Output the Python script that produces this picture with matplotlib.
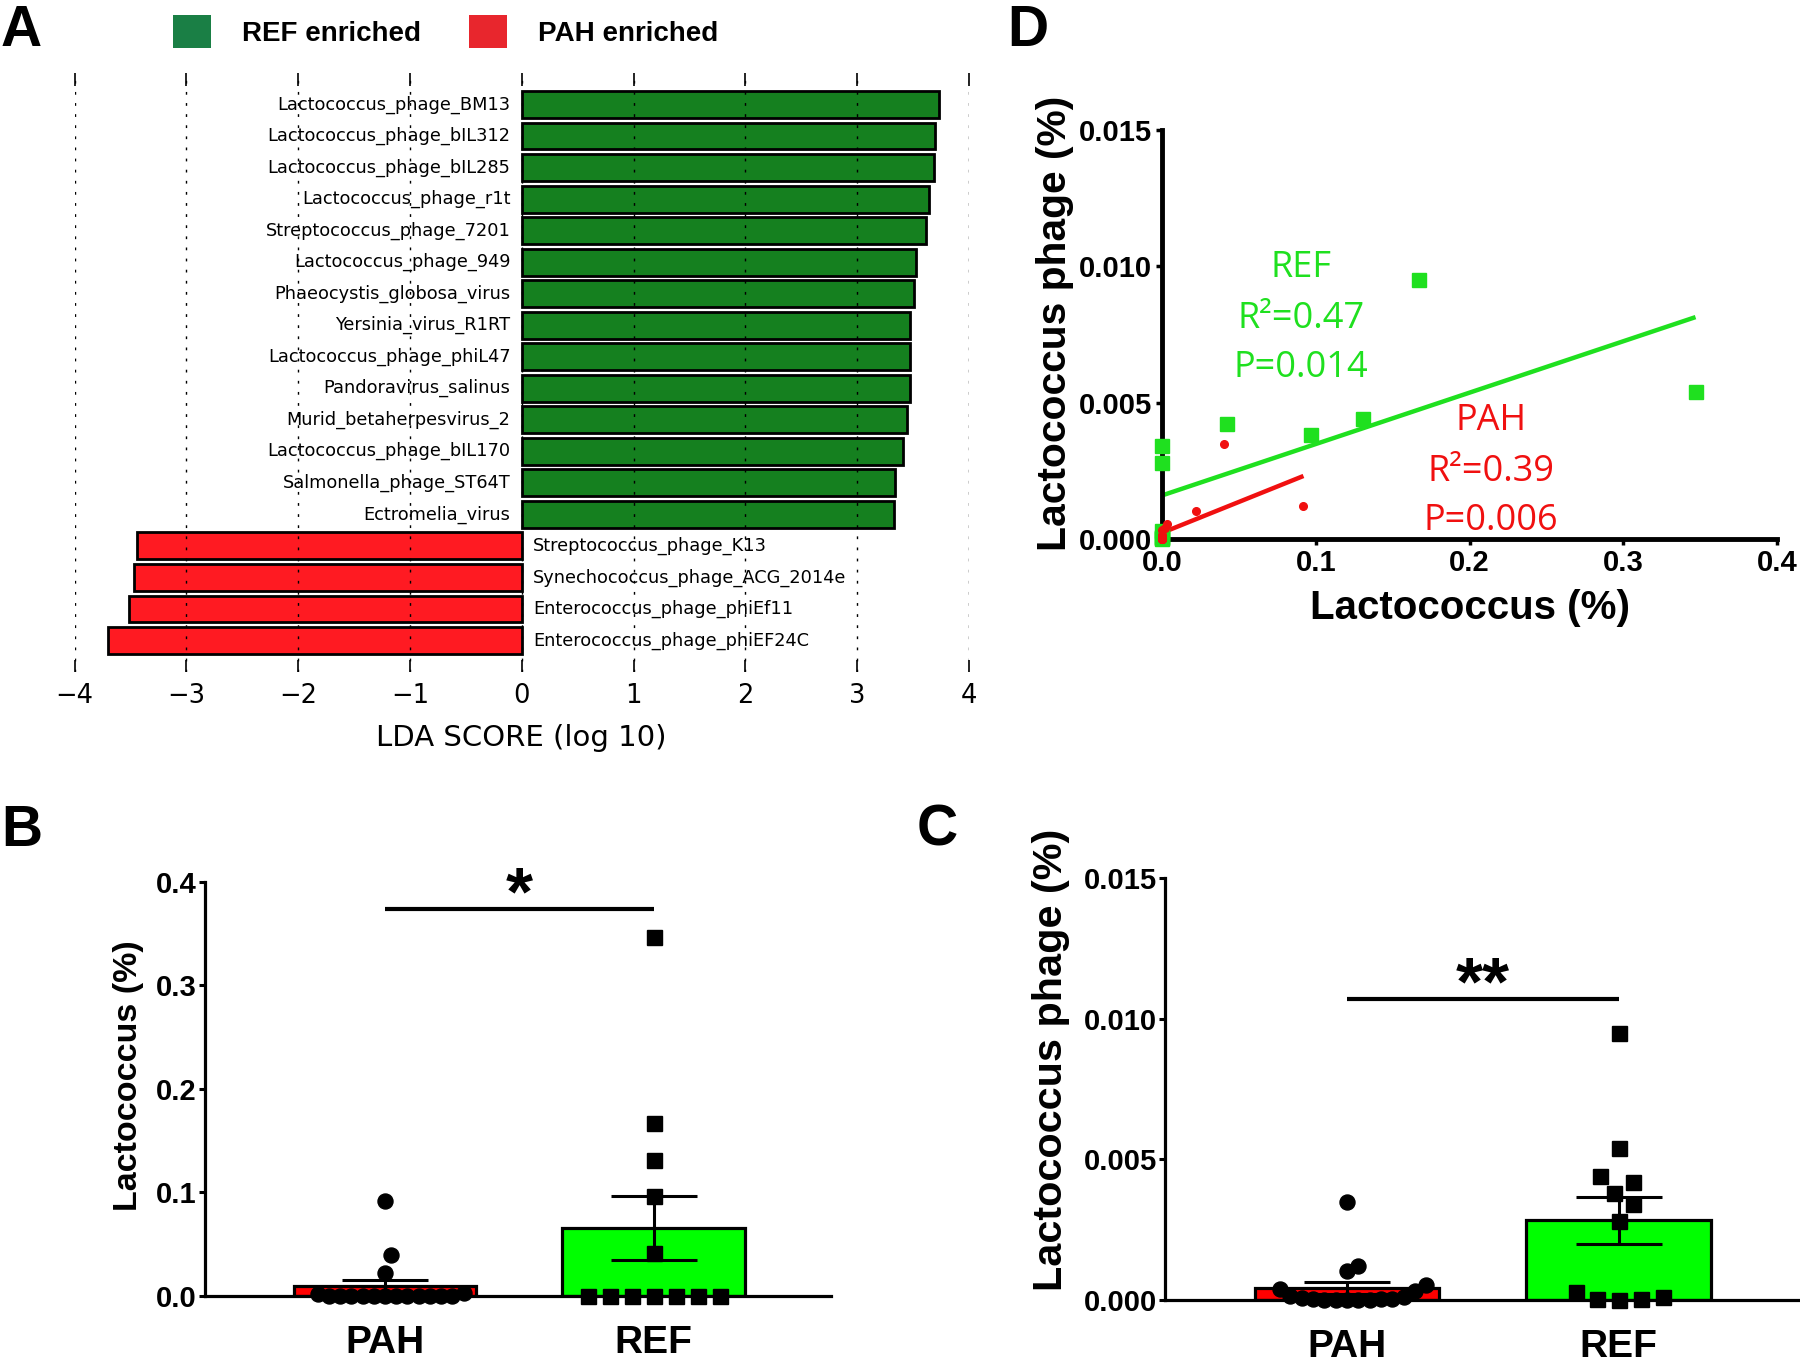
import numpy as np
import matplotlib
matplotlib.use("Agg")
import matplotlib.pyplot as plt
from matplotlib.patches import Patch
from matplotlib.ticker import FormatStrFormatter

# LEfSe result (panel A)
lefse_taxa = ["Lactococcus_phage_BM13", "Lactococcus_phage_bIL312", "Lactococcus_phage_bIL285",
              "Lactococcus_phage_r1t", "Streptococcus_phage_7201", "Lactococcus_phage_949",
              "Phaeocystis_globosa_virus", "Yersinia_virus_R1RT", "Lactococcus_phage_phiL47",
              "Pandoravirus_salinus", "Murid_betaherpesvirus_2", "Lactococcus_phage_bIL170",
              "Salmonella_phage_ST64T", "Ectromelia_virus", "Streptococcus_phage_K13",
              "Synechococcus_phage_ACG_2014e", "Enterococcus_phage_phiEf11", "Enterococcus_phage_phiEF24C"]
lefse_lda = [3.73, 3.70, 3.69, 3.64, 3.62, 3.53, 3.51, 3.47, 3.47, 3.47, 3.45, 3.41, 3.34, 3.33,
             -3.44, -3.47, -3.51, -3.70]

# per-sample abundances (%), same sample order in both lists
ref_lacto = [0.347, 0.167, 0.131, 0.097, 0.042, 0, 0, 0, 0, 0, 0, 0]
ref_phage = [0.0054, 0.0095, 0.0044, 0.0038, 0.0042, 0.0034, 0.0028, 0.0003, 0.00003, 0.0, 0.00003, 0.00009]
pah_lacto = [0.092, 0.040, 0.022, 0.003, 0.002, 0, 0, 0, 0, 0, 0, 0, 0, 0, 0, 0, 0]
pah_phage = [0.0012, 0.0035, 0.00102, 0.00055, 0.0004, 0.00033, 0.00015, 0.0001, 0.00008,
             0.00005, 0.00003, 0.00002, 0.00001, 0, 0, 0, 0]
groups = ["PAH", "REF"]

BOLD = dict(family="Liberation Sans", fontweight="bold")


def swarm(ax, values, center, d_px=22, max_w_px=157):
    # simple beeswarm: x offsets (data units) so markers don't overlap
    xy = ax.transData.transform(np.column_stack([np.full(len(values), center), values]))
    ys = xy[:, 1]
    xs = np.zeros(len(values))
    placed = []
    for i in np.argsort(ys, kind="stable"):
        cands = [0.0]
        for j in placed:
            dy = ys[i] - ys[j]
            if abs(dy) < d_px:
                dx = np.sqrt(d_px ** 2 - dy ** 2)
                cands += [xs[j] + dx, xs[j] - dx]
        cands.sort(key=lambda c: (round(abs(c), 6), -c))
        for c in cands:
            if all((c - xs[j]) ** 2 + (ys[i] - ys[j]) ** 2 >= d_px ** 2 - 1e-6 for j in placed):
                xs[i] = c
                break
        placed.append(i)
    half = np.abs(xs).max()
    if half > max_w_px / 2:
        xs *= (max_w_px / 2) / half
    unit = ax.transData.transform((1, 0))[0] - ax.transData.transform((0, 0))[0]
    return xs / unit


fig = plt.figure(figsize=(18, 13.65), dpi=100)

# ---------------- A : LEfSe ----------------
axA = fig.add_axes([0.04139, 0.50769, 0.4969, 0.43883])
ypos = np.arange(len(lefse_taxa))
bar_cols = ["#15801f" if v > 0 else "#ff1a22" for v in lefse_lda]
axA.barh(ypos, lefse_lda, height=0.85, color=bar_cols, edgecolor="black", linewidth=2)
for y, name, v in zip(ypos, lefse_taxa, lefse_lda):
    if v > 0:
        axA.text(-0.1, y, name, ha="right", va="center", fontsize=12.75, family="DejaVu Sans")
    else:
        axA.text(0.1, y, name, ha="left", va="center", fontsize=12.75, family="DejaVu Sans")
axA.set_xlim(-4, 4)
axA.set_ylim(len(lefse_taxa), -1)
axA.set_yticks([])
for s in axA.spines.values():
    s.set_visible(False)
axA.tick_params(axis="x", direction="in", top=True, bottom=True, length=9, width=1.2,
                labelsize=18.5, pad=8)
axA.set_axisbelow(False)
axA.xaxis.grid(True, linestyle=(0, (2, 6)), color="black", linewidth=1)
axA.set_xlabel("LDA SCORE (log 10)", fontsize=21, family="DejaVu Sans", labelpad=11)

fig.legend(handles=[Patch(facecolor="#1a7f45"), Patch(facecolor="#e8262d")],
           labels=["REF enriched", "PAH enriched"], loc="upper left",
           bbox_to_anchor=(0.093, 0.993), ncol=2, frameon=False,
           prop=dict(family="Liberation Sans", weight="bold", size=20),
           handlelength=1.37, handleheight=1.47, handletextpad=1.1, columnspacing=1.75,
           borderpad=0.2, borderaxespad=0)


# ---------------- B / C : bar + dots ----------------
def bar_panel(ax, pah, ref, ylim, yticks, fmt, stars, sig_y):
    vals = [np.array(pah), np.array(ref)]
    xpos = np.arange(len(groups))
    means = [v.mean() for v in vals]
    sems = [v.std(ddof=1) / np.sqrt(len(v)) for v in vals]
    ax.set_ylim(*ylim)
    ax.set_xlim(-0.67, 1.66)
    ax.bar(xpos, means, width=0.68, color=["#ff0000", "#00ff00"], edgecolor="black",
           linewidth=2.3, zorder=1)
    ax.errorbar(xpos, means, yerr=sems, fmt="none", ecolor="black", elinewidth=2.2,
                capsize=31, capthick=2.2, zorder=2)
    off0 = swarm(ax, vals[0], 0)
    off1 = swarm(ax, vals[1], 1)
    ax.plot(0 + off0, vals[0], "o", color="black", ms=10.8, clip_on=False, zorder=3)
    ax.plot(1 + off1, vals[1], "s", color="black", ms=10.8, clip_on=False, zorder=3)
    ax.plot([0, 1], [sig_y, sig_y], color="black", lw=3, solid_capstyle="butt")
    ax.text(0.5, sig_y - (ylim[1] - ylim[0]) * 0.013, stars, ha="center", va="baseline",
            fontsize=50, **BOLD)
    for side in ["top", "right"]:
        ax.spines[side].set_visible(False)
    for side in ["left", "bottom"]:
        ax.spines[side].set_linewidth(2.3)
    ax.set_yticks(yticks)
    ax.yaxis.set_major_formatter(FormatStrFormatter(fmt))
    ax.tick_params(axis="y", direction="out", length=4, width=2.2, pad=2)
    ax.set_xticks(xpos)
    ax.set_xticklabels(groups)
    ax.tick_params(axis="x", length=0, pad=21)
    for lab in ax.get_yticklabels():
        lab.set_fontsize(21)
        lab.set_family("Liberation Sans")
        lab.set_fontweight("bold")
    for lab in ax.get_xticklabels():
        lab.set_fontsize(28)
        lab.set_family("Liberation Sans")
        lab.set_fontweight("bold")


axB = fig.add_axes([0.11389, 0.05055, 0.34778, 0.30330])
bar_panel(axB, pah_lacto, ref_lacto, (0, 0.4), [0, 0.1, 0.2, 0.3, 0.4], "%.1f", "*", 0.374)
fig.text(129 / 1800, 1 - 1076 / 1365, "Lactococcus (%)", rotation=90, ha="center", va="center",
         fontsize=24.5, **BOLD)

axC = fig.add_axes([0.64722, 0.04762, 0.35167, 0.30916])
bar_panel(axC, pah_phage, ref_phage, (0, 0.015), [0, 0.005, 0.010, 0.015], "%.3f", "**", 0.0107)
fig.text(1051 / 1800, 1 - 1060 / 1365, "Lactococcus phage (%)", rotation=90, ha="center",
         va="center", fontsize=29.8, **BOLD)

# ---------------- D : correlation ----------------
axD = fig.add_axes([0.64556, 0.60513, 0.34167, 0.29963])
green = "#1fe01f"
red = "#f01010"
axD.set_xlim(0, 0.4)
axD.set_ylim(0, 0.015)
for xs, ys, col in [(ref_lacto, ref_phage, green), (pah_lacto, pah_phage, red)]:
    k, b = np.polyfit(xs, ys, 1)
    xl = np.array([min(xs), max(xs)])
    axD.plot(xl, k * xl + b, color=col, lw=3.2, solid_capstyle="butt", zorder=2)
axD.plot(ref_lacto, ref_phage, "s", color=green, ms=9.5, clip_on=False, zorder=3)
axD.plot(pah_lacto, pah_phage, "o", color=red, ms=5.5, clip_on=False, zorder=3)

txt = dict(ha="center", va="center", fontsize=26, family="Open Sans")
axD.text(0.0905, 0.00995, "REF", color=green, **txt)
axD.text(0.0905, 0.00808, "R²=0.47", color=green, **txt)
axD.text(0.0905, 0.00628, "P=0.014", color=green, **txt)
axD.text(0.214, 0.00431, "PAH", color=red, **txt)
axD.text(0.214, 0.00245, "R²=0.39", color=red, **txt)
axD.text(0.214, 0.00065, "P=0.006", color=red, **txt)

for side in ["top", "right"]:
    axD.spines[side].set_visible(False)
for side in ["left", "bottom"]:
    axD.spines[side].set_linewidth(3.5)
axD.set_xticks([0, 0.1, 0.2, 0.3, 0.4])
axD.set_yticks([0, 0.005, 0.010, 0.015])
axD.xaxis.set_major_formatter(FormatStrFormatter("%.1f"))
axD.yaxis.set_major_formatter(FormatStrFormatter("%.3f"))
axD.tick_params(direction="out", length=4, width=2.5, pad=3)
for lab in axD.get_xticklabels() + axD.get_yticklabels():
    lab.set_fontsize(21)
    lab.set_family("Liberation Sans")
    lab.set_fontweight("bold")
fig.text(1055 / 1800, 1 - 323 / 1365, "Lactococcus phage (%)", rotation=90, ha="center",
         va="center", fontsize=29.3, **BOLD)
fig.text(1470 / 1800, 1 - 608 / 1365, "Lactococcus (%)", ha="center", va="center",
         fontsize=29, **BOLD)

# panel letters
for letter, x, y in [("A", 1, 4), ("D", 1007, 4), ("B", 1, 804), ("C", 917, 804)]:
    fig.text(x / 1800, 1 - y / 1365, letter, ha="left", va="top", fontsize=41, **BOLD)

fig.savefig("out.png", dpi=100)
